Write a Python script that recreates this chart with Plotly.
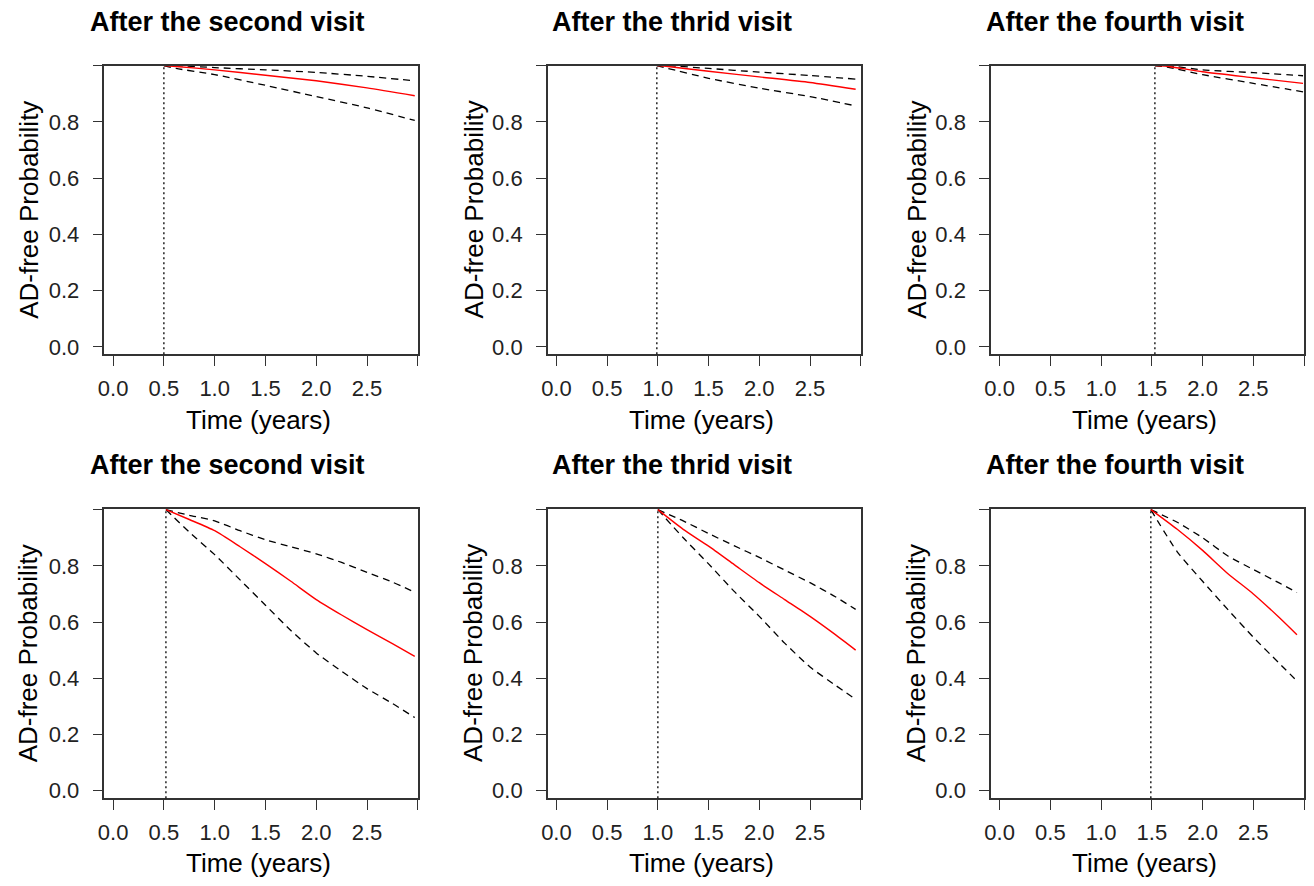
import plotly.graph_objects as go

# ---------------- data ----------------
panel_titles = ["After the second visit", "After the thrid visit", "After the fourth visit",
                "After the second visit", "After the thrid visit", "After the fourth visit"]
landmarks = [0.50, 0.99, 1.53, 0.52, 1.00, 1.49]

# top row
time_tl = [0.50, 0.62, 1.0, 1.5, 2.0, 2.5, 2.97]
surv_tl = [1.0, 0.997, 0.985, 0.966, 0.946, 0.921, 0.893]
upper_tl = [1.0, 1.0, 0.993, 0.985, 0.976, 0.962, 0.946]
lower_tl = [1.0, 0.99, 0.968, 0.93, 0.89, 0.85, 0.805]

time_tm = [0.99, 1.1, 1.5, 2.0, 2.5, 2.95]
surv_tm = [1.0, 0.997, 0.98, 0.96, 0.94, 0.916]
upper_tm = [1.0, 1.0, 0.99, 0.977, 0.965, 0.952]
lower_tm = [1.0, 0.99, 0.955, 0.92, 0.89, 0.857]

time_tr = [1.53, 1.65, 2.0, 2.5, 2.99]
surv_tr = [1.0, 0.998, 0.978, 0.957, 0.937]
upper_tr = [1.0, 1.0, 0.985, 0.975, 0.964]
lower_tr = [1.0, 0.995, 0.968, 0.937, 0.907]

# bottom row
time_bl = [0.52, 0.75, 1.0, 1.25, 1.5, 1.75, 2.0, 2.25, 2.5, 2.75, 2.97]
surv_bl = [1.0, 0.965, 0.925, 0.868, 0.808, 0.745, 0.68, 0.625, 0.573, 0.523, 0.478]
upper_bl = [1.0, 0.98, 0.96, 0.925, 0.893, 0.868, 0.843, 0.812, 0.777, 0.742, 0.706]
lower_bl = [1.0, 0.92, 0.84, 0.75, 0.66, 0.57, 0.49, 0.425, 0.363, 0.31, 0.26]

time_bm = [1.00, 1.25, 1.5, 1.75, 2.0, 2.25, 2.5, 2.75, 2.95]
surv_bm = [1.0, 0.93, 0.87, 0.805, 0.74, 0.68, 0.62, 0.555, 0.50]
upper_bm = [1.0, 0.96, 0.915, 0.872, 0.83, 0.785, 0.74, 0.69, 0.645]
lower_bm = [1.0, 0.9, 0.807, 0.71, 0.62, 0.525, 0.44, 0.375, 0.325]

time_br = [1.49, 1.75, 2.0, 2.25, 2.5, 2.75, 2.93]
surv_br = [1.0, 0.93, 0.855, 0.772, 0.70, 0.618, 0.555]
upper_br = [1.0, 0.955, 0.9, 0.835, 0.787, 0.74, 0.705]
lower_br = [1.0, 0.85, 0.745, 0.644, 0.546, 0.455, 0.39]

panels = [
    (time_tl, surv_tl, upper_tl, lower_tl),
    (time_tm, surv_tm, upper_tm, lower_tm),
    (time_tr, surv_tr, upper_tr, lower_tr),
    (time_bl, surv_bl, upper_bl, lower_bl),
    (time_bm, surv_bm, upper_bm, lower_bm),
    (time_br, surv_br, upper_br, lower_br),
]

x_tickvals = [0.0, 0.5, 1.0, 1.5, 2.0, 2.5, 3.0]
x_ticktext = ["0.0", "0.5", "1.0", "1.5", "2.0", "2.5", ""]
y_tickvals = [0.0, 0.2, 0.4, 0.6, 0.8, 1.0]
y_ticktext = ["0.0", "0.2", "0.4", "0.6", "0.8", ""]

x_title = "Time (years)"
y_title = "AD-free Probability"

# ---------------- layout geometry (pixels) ----------------
W, H = 1314, 886
col_px = [(98, 413), (543.7, 858.3), (989.3, 1304)]
row_px = [(66, 356.3), (511.7, 802.7)]
title_cx = [222, 668.5, 1114.3]
title_cy = [22, 468]
xlab_cy = [422, 868]
ylab_cx = [22, 469, 914.7]

FONT = "Liberation Sans, Arial, sans-serif"
AXCOL = "#333333"

fig = go.Figure()
layout = dict(
    width=W, height=H, margin=dict(l=0, r=0, t=0, b=0),
    paper_bgcolor="white", plot_bgcolor="white", showlegend=False,
    font=dict(family=FONT, color="black"),
)
annotations = []
shapes = []

for i, (t, s, up, lo) in enumerate(panels):
    r, c = divmod(i, 3)
    idx = i + 1
    xa = "x" if idx == 1 else f"x{idx}"
    ya = "y" if idx == 1 else f"y{idx}"
    xkey = "xaxis" if idx == 1 else f"xaxis{idx}"
    ykey = "yaxis" if idx == 1 else f"yaxis{idx}"
    x0, x1 = col_px[c]
    y0, y1 = row_px[r]
    yr = [-0.026, 1.0] if r == 0 else [-0.027, 1.003]
    layout[xkey] = dict(
        domain=[x0 / W, x1 / W], anchor=ya, range=[-0.085, 3.0],
        tickvals=x_tickvals, ticktext=x_ticktext, ticks="outside", ticklen=10,
        tickwidth=1.3, tickcolor=AXCOL, showline=True, mirror=True, linecolor=AXCOL,
        linewidth=1.5, showgrid=False, zeroline=False,
        tickfont=dict(size=22, family=FONT, color="#222222"), ticklabelstandoff=4,
    )
    layout[ykey] = dict(
        domain=[1 - y1 / H, 1 - y0 / H], anchor=xa, range=yr,
        tickvals=y_tickvals, ticktext=y_ticktext, ticks="outside", ticklen=10,
        tickwidth=1.3, tickcolor=AXCOL, showline=True, mirror=True, linecolor=AXCOL,
        linewidth=1.5, showgrid=False, zeroline=False,
        tickfont=dict(size=22, family=FONT, color="#222222"), ticklabelstandoff=9,
    )
    # vertical dotted landmark line
    shapes.append(dict(type="line", xref=xa, yref=f"{ya} domain", x0=landmarks[i], x1=landmarks[i],
                       y0=0, y1=1, line=dict(color="black", width=1.3, dash="2px,3px")))
    fig.add_trace(go.Scatter(x=t, y=up, mode="lines", xaxis=xa, yaxis=ya, hoverinfo="skip",
                             line=dict(color="black", width=1.3, dash="7px,5px", shape="spline", smoothing=0.6)))
    fig.add_trace(go.Scatter(x=t, y=lo, mode="lines", xaxis=xa, yaxis=ya, hoverinfo="skip",
                             line=dict(color="black", width=1.3, dash="7px,5px", shape="spline", smoothing=0.6)))
    fig.add_trace(go.Scatter(x=t, y=s, mode="lines", xaxis=xa, yaxis=ya, hoverinfo="skip",
                             line=dict(color="#FF0000", width=1.4, shape="spline", smoothing=0.6)))
    # titles
    annotations.append(dict(text=f"<b>{panel_titles[i]}</b>", xref="paper", yref="paper",
                            x=title_cx[c] / W, y=1 - title_cy[r] / H, xanchor="center", yanchor="middle",
                            showarrow=False, font=dict(size=27, family=FONT, color="black")))
    annotations.append(dict(text=x_title, xref="paper", yref="paper",
                            x=((x0 + x1) / 2 - 3) / W, y=1 - xlab_cy[r] / H, xanchor="center", yanchor="middle",
                            showarrow=False, font=dict(size=26, family=FONT, color="black")))
    annotations.append(dict(text=y_title, xref="paper", yref="paper", textangle=-90,
                            x=ylab_cx[c] / W, y=1 - (y0 + y1) / 2 / H, xanchor="center", yanchor="middle",
                            showarrow=False, font=dict(size=26, family=FONT, color="black")))

layout["annotations"] = annotations
layout["shapes"] = shapes
fig.update_layout(**layout)
fig.write_html("out.html", config={"displayModeBar": False},
               post_script="document.body.style.margin='0';document.body.style.overflow='hidden';")
